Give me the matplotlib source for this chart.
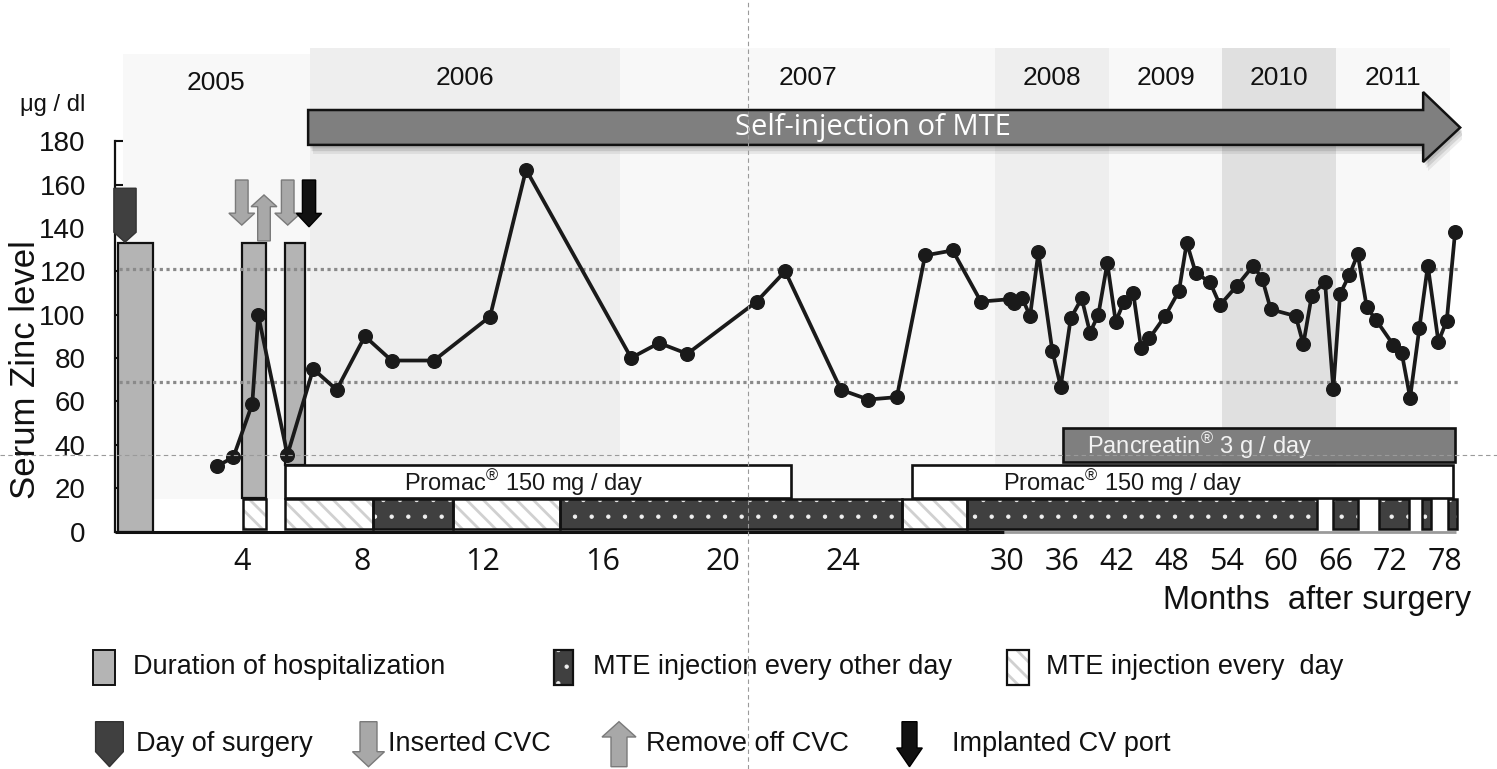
import numpy as np
import matplotlib
matplotlib.use("Agg")
import matplotlib.pyplot as plt
from matplotlib.patches import Rectangle, Polygon
import matplotlib.patheffects as pe
from matplotlib.lines import Line2D

plt.rcParams['font.family'] = ['Liberation Sans', 'DejaVu Sans']
plt.rcParams['mathtext.fontset'] = 'custom'
plt.rcParams['mathtext.rm'] = 'Liberation Sans'
plt.rcParams['mathtext.it'] = 'Liberation Sans:italic'
plt.rcParams['mathtext.bf'] = 'Liberation Sans:bold'
plt.rcParams['mathtext.default'] = 'regular'
plt.rcParams['hatch.linewidth'] = 2.0

# ---------------- data ----------------
zinc_months = [3.14, 3.70, 4.33, 4.53, 5.50, 6.36, 7.14, 8.08, 8.97, 10.38,
               12.25, 13.45, 16.95, 17.88, 18.82, 21.13, 22.08, 23.94, 24.85,
               25.80, 26.74, 27.66, 28.60,
               30.30, 30.74, 31.65, 32.50, 33.41, 34.94, 35.86, 36.96, 38.16,
               39.07, 39.98, 40.97, 41.89, 42.80, 43.82, 44.67, 45.58, 47.30,
               48.83, 49.68, 50.66, 52.23, 53.33, 55.16, 56.98, 57.97, 58.89,
               61.63, 62.46, 63.38, 64.84, 65.75, 66.49, 67.51, 68.43, 69.42,
               70.44, 72.33, 73.26, 74.17, 75.19, 76.11, 77.27, 78.19, 79.10]
zinc_values = [30.0, 34.3, 58.9, 99.7, 35.4, 75.0, 65.4, 90.1, 78.9, 78.9,
               99.2, 167.0, 80.1, 87.0, 82.0, 106.1, 120.1, 65.4, 60.9,
               62.0, 127.4, 129.7, 106.1,
               107.2, 105.6, 107.6, 99.4, 128.8, 83.4, 66.8, 98.4, 107.6,
               91.8, 99.9, 123.8, 96.8, 106.1, 109.9, 84.8, 89.1, 99.4,
               111.0, 133.3, 119.4, 115.0, 104.5, 113.3, 122.7, 116.4, 102.5,
               99.4, 86.4, 108.8, 115.3, 65.6, 109.6, 118.4, 127.9, 103.5,
               97.6, 86.1, 82.2, 61.7, 94.0, 122.7, 87.6, 97.3, 138.1]

ref_levels = [121, 69]

year_labels = ['2005', '2006', '2007', '2008', '2009', '2010', '2011']
year_starts = [0.02, 6.25, 16.58, 29.08, 41.14, 53.57, 66.07]
year_ends = [6.25, 16.58, 29.08, 41.14, 53.57, 66.07, 78.57]
year_colors = ['#f8f8f8', '#eeeeee', '#f8f8f8', '#eeeeee', '#f8f8f8', '#e0e0e0', '#f8f8f8']

tick_months = [4, 8, 12, 16, 20, 24, 30, 36, 42, 48, 54, 60, 66, 72, 78]
tick_labels = ['4', '8', '12', '16', '20', '24', '30', '36', '42', '48', '54', '60', '66', '72', '78']
y_ticks = [0, 20, 40, 60, 80, 100, 120, 140, 160, 180]

hosp_start = [-0.14, 3.98, 5.42]
hosp_end = [1.03, 4.79, 6.09]

mte_daily_start = [4.02, 5.42, 11.02, 25.97]
mte_daily_end = [4.79, 8.35, 14.58, 28.14]
mte_eod_start = [8.35, 14.58, 28.14, 65.75, 70.76, 75.48, 78.36]
mte_eod_end = [11.02, 25.97, 63.93, 68.49, 74.05, 76.51, 79.28]

promac_start = [5.42, 26.31]
promac_end = [22.27, 78.88]
pancreatin_start = [36.11]
pancreatin_end = [79.10]

self_injection_start = 6.19
self_injection_end = 79.66

surgery_month = [0.09]
cvc_inserted = [3.98, 5.51]
cvc_removed = [4.72]
port_implanted = [6.22]

# ---------------- scale (compressed after ~29 months) ----------------
BRK = 29.25
CMP = 0.3038


def fwd(m):
    m = np.asarray(m, dtype=float)
    return np.where(m <= BRK, m, BRK + (m - BRK) * CMP)


def inv(u):
    u = np.asarray(u, dtype=float)
    return np.where(u <= BRK, u, BRK + (u - BRK) / CMP)


def set_hlw(p, lw):
    try:
        p.set_hatch_linewidth(lw)
    except AttributeError:
        pass
    return p


def dotted_patch(xy, w, h):
    with plt.rc_context({'hatch.linewidth': 0.7}):
        p = Rectangle(xy, w, h, facecolor='#404040', edgecolor='#f0f0f0', hatch='.', lw=0)
    return set_hlw(p, 0.7)


def diag_patch(xy, w, h):
    with plt.rc_context({'hatch.linewidth': 2.0}):
        p = Rectangle(xy, w, h, facecolor='white', edgecolor='#d0d0d0', hatch='\\\\', lw=0)
    return set_hlw(p, 2.0)


W, H = 1497, 769
fig = plt.figure(figsize=(W / 100, H / 100), dpi=100)
fig.patch.set_facecolor('white')

# overlay axes in pixel coordinates for legend
ov = fig.add_axes([0, 0, 1, 1], zorder=0)
ov.set_xlim(0, W)
ov.set_ylim(H, 0)
ov.axis('off')

ax_left_px, ax_right_px, ax_top_px, ax_bot_px = 115, 1462, 45, 531.5
ax = fig.add_axes([ax_left_px / W, (H - ax_bot_px) / H,
                   (ax_right_px - ax_left_px) / W, (ax_bot_px - ax_top_px) / H], zorder=1)
ax.set_xscale('function', functions=(fwd, inv))
ax.set_xlim(-0.243, 79.86)
ax.set_ylim(0, 224.5)
ax.patch.set_alpha(0)

# year bands
for s, e, c, lab in zip(year_starts, year_ends, year_colors, year_labels):
    top = 220.5 if lab == '2005' else 223
    ax.add_patch(Rectangle((s, 15), e - s, top - 15, facecolor=c, edgecolor='none', zorder=0.5))
    ymid = 207 if lab == '2005' else 209.5
    xm = inv((fwd(s) + fwd(e)) / 2)
    ax.text(float(xm), ymid, lab, ha='center', va='center', fontsize=19, color='#111111', zorder=6)

# hospitalization bars
hosp_bottoms = [0, 15.5, 30.5]
for s, e, b in zip(hosp_start, hosp_end, hosp_bottoms):
    ax.add_patch(Rectangle((s, b), e - s, 133 - b, facecolor='#b4b4b4', edgecolor='#111111',
                           lw=1.6, zorder=2, clip_on=False))

# reference lines
for r in ref_levels:
    ax.plot([-0.1, 79.4], [r, r], color='#8a8a8a', lw=2.3, ls=(0, (1, 1.1)), zorder=2.5,
            solid_capstyle='butt', dash_capstyle='butt')

# MTE bars
MB, MT = 1.0, 14.9
for s, e in zip(mte_daily_start, mte_daily_end):
    p = diag_patch((s, MB), e - s, MT - MB)
    p.set_zorder(3)
    ax.add_patch(p)
    ax.add_patch(Rectangle((s, MB), e - s, MT - MB, facecolor='none', edgecolor='#111111',
                           lw=1.8, zorder=3.1))
for s, e in zip(mte_eod_start, mte_eod_end):
    p = dotted_patch((s, MB), e - s, MT - MB)
    p.set_zorder(3)
    ax.add_patch(p)
    ax.add_patch(Rectangle((s, MB), e - s, MT - MB, facecolor='none', edgecolor='#111111',
                           lw=1.8, zorder=3.1))

# Promac bars
for s, e in zip(promac_start, promac_end):
    ax.add_patch(Rectangle((s, 15.5), e - s, 15.0, facecolor='white', edgecolor='#111111',
                           lw=1.9, zorder=3.2))
promac_text_x = [9.39, 29.53]
for tx in promac_text_x:
    ax.text(tx, 22.6, r'Promac$^{®}$ 150 mg / day', ha='left', va='center', fontsize=17,
            color='#1a1a1a', zorder=6)

# Pancreatin bar
for s, e in zip(pancreatin_start, pancreatin_end):
    ax.add_patch(Rectangle((s, 32.2), e - s, 15.6, facecolor='#7f7f7f', edgecolor='#111111',
                           lw=1.9, zorder=3.2))
ax.text(38.75, 39.6, r'Pancreatin$^{®}$ 3 g / day', ha='left', va='center', fontsize=17,
        color='#f2f2f2', zorder=6)

# Self-injection arrow
hb = 75.6
arrow_pts = [(self_injection_start, 178.4), (hb, 178.4), (hb, 170.5),
             (self_injection_end, 186.4), (hb, 202.8), (hb, 194.5),
             (self_injection_start, 194.5)]
arr = Polygon(arrow_pts, closed=True, facecolor='#7f7f7f', edgecolor='#111111', lw=1.8,
              zorder=5, joinstyle='miter')
arr.set_path_effects([pe.SimplePatchShadow(offset=(1.5, -2.5), shadow_rgbFace='black', alpha=0.10),
                      pe.SimplePatchShadow(offset=(2.5, -4.5), shadow_rgbFace='black', alpha=0.10),
                      pe.SimplePatchShadow(offset=(3.5, -6.5), shadow_rgbFace='black', alpha=0.07),
                      pe.Normal()])
ax.add_patch(arr)
ax.text(25.0, 186.4, 'Self-injection of MTE', ha='center', va='center', fontsize=21,
        fontfamily='Open Sans', color='white', zorder=6)

# zinc line
ax.plot(zinc_months, zinc_values, color='#1a1a1a', lw=2.7, marker='o', ms=9.8,
        mfc='#1a1a1a', mec='#1a1a1a', zorder=4.5, clip_on=False)


# event arrows
def down_arrow(a, c, top, head, tip, sw, hw, fc, ec, z=5.5):
    pts = [(c - sw, top), (c + sw, top), (c + sw, head), (c + hw, head), (c, tip),
           (c - hw, head), (c - sw, head)]
    a.add_patch(Polygon(pts, closed=True, facecolor=fc, edgecolor=ec, lw=1.0, zorder=z,
                        clip_on=False))


def up_arrow(a, c, bottom, head, tip, sw, hw, fc, ec, z=5.5):
    pts = [(c - sw, bottom), (c + sw, bottom), (c + sw, head), (c + hw, head), (c, tip),
           (c - hw, head), (c - sw, head)]
    a.add_patch(Polygon(pts, closed=True, facecolor=fc, edgecolor=ec, lw=1.0, zorder=z,
                        clip_on=False))


for c in surgery_month:
    hw = 0.37
    pts = [(c - hw, 158.4), (c + hw, 158.4), (c + hw, 138.1), (c, 133.5), (c - hw, 138.1)]
    ax.add_patch(Polygon(pts, closed=True, facecolor='#404040', edgecolor='#333333', lw=1.0,
                         zorder=5.5, clip_on=False))
for c in cvc_inserted:
    down_arrow(ax, c, 162.2, 146.9, 141.4, 0.21, 0.43, '#a8a8a8', '#7a7a7a')
for c in cvc_removed:
    up_arrow(ax, c, 134.1, 149.9, 155.3, 0.21, 0.43, '#a8a8a8', '#7a7a7a')
for c in port_implanted:
    down_arrow(ax, c, 162.2, 146.8, 140.6, 0.22, 0.42, '#111111', '#000000')

# axes styling
for sp in ['top', 'right', 'bottom']:
    ax.spines[sp].set_visible(False)
ax.spines['left'].set_bounds(0, 180)
ax.spines['left'].set_linewidth(1.6)
ax.spines['left'].set_color('#111111')
ax.set_yticks(y_ticks)
ax.set_yticklabels([str(v) for v in y_ticks])
ax.tick_params(axis='y', direction='in', length=6, width=1.5, pad=21, labelsize=20,
               colors='#111111')
ax.set_xticks(tick_months)
ax.set_xticklabels(tick_labels, fontfamily='Open Sans', fontsize=22, color='#111111')
ax.tick_params(axis='x', length=0, pad=11)
ax.xaxis.set_minor_locator(matplotlib.ticker.NullLocator())

# x axis line
ax.plot([-0.24, 29.6], [0, 0], color='#111111', lw=2.2, zorder=3.5, clip_on=False,
        solid_capstyle='butt')
ax.plot([29.6, 79.2], [0, 0], color='#9a9a9a', lw=2.0, zorder=3.4, clip_on=False,
        solid_capstyle='butt')

# axis texts
fig.text(20 / W, 1 - 105 / H, 'μg / dl', ha='left', va='center', fontsize=17, color='#111111')
fig.text(26 / W, 1 - 370 / H, 'Serum Zinc level', ha='center', va='center', rotation=90,
         fontsize=25, color='#111111')
fig.text(1163 / W, 1 - 600 / H, 'Months  after surgery', ha='left', va='center', fontsize=23.5,
         color='#111111')

# ---------------- legend (pixel overlay) ----------------
LFS = 19.5
ov.add_patch(Rectangle((92.5, 650), 22.3, 35, facecolor='#b4b4b4', edgecolor='#111111', lw=1.4))
ov.text(132.7, 667, 'Duration of hospitalization', ha='left', va='center', fontsize=LFS,
        color='#111111')
ov.add_patch(dotted_patch((554, 650), 19, 35))
ov.add_patch(Rectangle((554, 650), 19, 35, facecolor='none', edgecolor='#111111', lw=1.6))
ov.text(593, 667, 'MTE injection every other day', ha='left', va='center', fontsize=LFS,
        color='#111111')
ov.add_patch(diag_patch((1006.8, 650), 22.2, 35))
ov.add_patch(Rectangle((1006.8, 650), 22.2, 35, facecolor='none', edgecolor='#111111', lw=1.6))
ov.text(1046, 667, 'MTE injection every  day', ha='left', va='center', fontsize=LFS,
        color='#111111')

# row 2
ov.add_patch(Polygon([(95.6, 721.7), (123.3, 721.7), (123.3, 751.7), (109.5, 766.7), (95.6, 751.7)],
                     closed=True, facecolor='#404040', edgecolor='#333333', lw=1.0))
ov.text(135.8, 744, 'Day of surgery', ha='left', va='center', fontsize=LFS, color='#111111')
down_arrow(ov, 368.5, 721.7, 751.7, 766.7, 8.5, 16, '#a8a8a8', '#7a7a7a')
ov.text(388, 744, 'Inserted CVC', ha='left', va='center', fontsize=LFS, color='#111111')
up_arrow(ov, 619, 766.7, 737, 721.7, 8.0, 17, '#a8a8a8', '#7a7a7a')
ov.text(646, 744, 'Remove off CVC', ha='left', va='center', fontsize=LFS, color='#111111')
down_arrow(ov, 909.5, 721.7, 748, 766.7, 7.5, 12.8, '#111111', '#000000')
ov.text(951.6, 744, 'Implanted CV port', ha='left', va='center', fontsize=LFS, color='#111111')

# thin guide lines across the figure
fig.add_artist(Line2D([748 / W, 748 / W], [0, 1], transform=fig.transFigure, color='#9a9a9a',
                      lw=0.8, ls=(0, (4, 3)), zorder=100))
fig.add_artist(Line2D([0, 1], [1 - 455 / H, 1 - 455 / H], transform=fig.transFigure,
                      color='#9a9a9a', lw=0.8, ls=(0, (4, 3)), zorder=100))

fig.savefig('out.png', dpi=100, facecolor='white')
